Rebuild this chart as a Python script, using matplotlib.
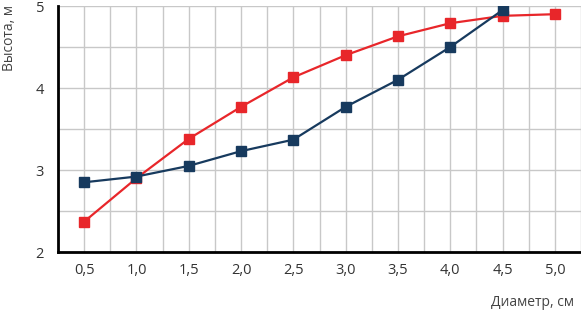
import matplotlib
matplotlib.use('Agg')
import matplotlib.pyplot as plt
import numpy as np

diam = [0.5, 1.0, 1.5, 2.0, 2.5, 3.0, 3.5, 4.0, 4.5, 5.0]
red_h = [2.37, 2.90, 3.38, 3.77, 4.13, 4.40, 4.63, 4.79, 4.88, 4.90]
blue_diam = [0.5, 1.0, 1.5, 2.0, 2.5, 3.0, 3.5, 4.0, 4.5]
blue_h = [2.85, 2.92, 3.05, 3.23, 3.37, 3.77, 4.10, 4.50, 4.95]
xtick_labels = ['0,5', '1,0', '1,5', '2,0', '2,5', '3,0', '3,5', '4,0', '4,5', '5,0']

plt.rcParams['font.family'] = ['Open Sans', 'DejaVu Sans']

fig = plt.figure(figsize=(5.81, 3.12), dpi=100)
ax = fig.add_axes([58/581, 60/312, 1 - 58/581, 246/312])

ax.plot(diam, red_h, color='#e8262a', lw=1.6, marker='s', ms=6.5, zorder=3)
ax.plot(blue_diam, blue_h, color='#173a5e', lw=1.6, marker='s', ms=6.5, zorder=4)

ax.set_xlim(0.25, 5.25)
ax.set_ylim(2, 5)
ax.set_xticks(diam)
ax.set_xticklabels(xtick_labels)
ax.set_xticks(np.arange(0.25, 5.3, 0.5), minor=True)
ax.set_yticks([2, 3, 4, 5])
ax.set_yticks([2.5, 3.5, 4.5], minor=True)
ax.grid(True, which='both', color='#c8c8c8', lw=1.0, zorder=0)
ax.set_axisbelow(True)

for s in ['top', 'right']:
    ax.spines[s].set_visible(False)
ax.spines['left'].set_linewidth(2)
ax.spines['bottom'].set_linewidth(2)
ax.tick_params(which='both', length=0, labelsize=10.5, colors='#333333', pad=8)
ax.tick_params(axis='y', pad=10)

fig.text(10/581, 1 - 5/312, 'Высота, м', rotation=90, ha='center', va='top',
         fontsize=10, color='#444444')
fig.text(574/581, 1 - 302/312, 'Диаметр, см', ha='right', va='center',
         fontsize=10, color='#444444')

fig.savefig('out.png', dpi=100)
